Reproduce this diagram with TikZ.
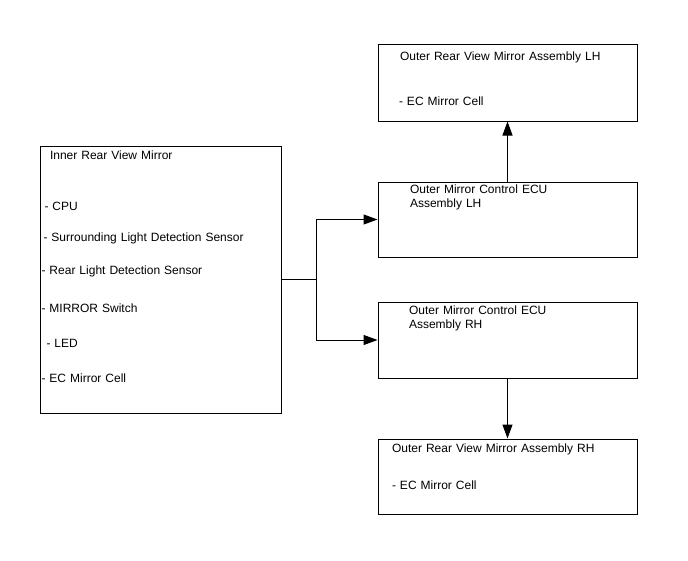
\documentclass[tikz,border=0pt]{standalone}
\usepackage{fontspec}
\setmainfont{Liberation Sans}
\usetikzlibrary{arrows.meta,positioning,calc}

\begin{document}
\begin{tikzpicture}[
  x=1pt, y=1pt,
  every node/.style={font=\fontsize{12pt}{14pt}\selectfont},
  block/.style={rectangle, draw, line width=1pt, inner sep=0pt, align=left,
                text width=259pt},
  arr/.style={-{Triangle[length=14pt,width=10pt]}, line width=1pt},
]
\useasboundingbox (0,0) rectangle (688,-560);

\node[block, text height=11pt, text depth=64pt] at (507.5,-219.5)
                            (ecuL)  {\hspace*{32pt}Outer Mirror Control ECU\\
                                     \hspace*{32pt}Assembly LH};
\node[block, text height=12pt, text depth=64pt, below=44pt of ecuL]
                            (ecuR)  {\hspace*{31pt}Outer Mirror Control ECU\\
                                     \hspace*{31pt}Assembly RH};
\node[block, text height=16pt, text depth=61pt, above=60pt of ecuL]
                            (mirL)  {\hspace*{22pt}Outer Rear View Mirror Assembly LH\\[31pt]
                                     \hspace*{21pt}- EC Mirror Cell};
\node[block, text height=13pt, text depth=62pt, below=60pt of ecuR]
                            (mirR)  {\hspace*{14pt}Outer Rear View Mirror Assembly RH\\[23pt]
                                     \hspace*{14pt}- EC Mirror Cell};
\coordinate (mid) at ($(ecuL.west)!0.5!(ecuR.west)$);
\node[block, text width=241pt, text height=13pt, text depth=254pt, left=96pt of mid]
                            (inner) {\hspace*{10pt}Inner Rear View Mirror\\[37pt]
                                     \hspace*{4.5pt}- CPU\\[17pt]
                                     \hspace*{3.5pt}- Surrounding Light Detection Sensor\\[19pt]
                                     \hspace*{1.5pt}- Rear Light Detection Sensor\\[24pt]
                                     \hspace*{1.5pt}- MIRROR Switch\\[21pt]
                                     \hspace*{6.5pt}- LED\\[21pt]
                                     \hspace*{1.5pt}- EC Mirror Cell};

\draw[arr] (inner.east) -- ++(35,0) coordinate (fork) |- (ecuL.west);
\draw[arr] (fork) |- (ecuR.west);
\draw[arr] (ecuL) -- (mirL);
\draw[arr] (ecuR) -- (mirR);
\end{tikzpicture}
\end{document}
